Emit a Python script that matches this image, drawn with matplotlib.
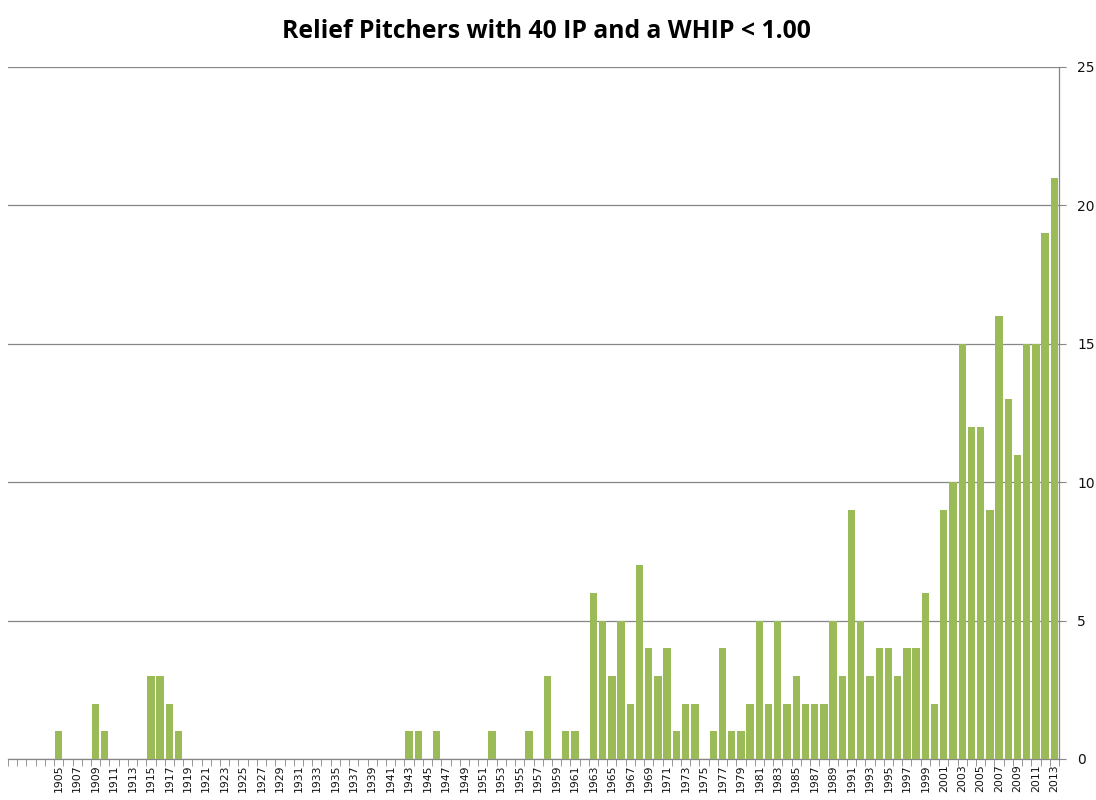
import numpy as np
import matplotlib.pyplot as plt

# five leading categories carry no label in the source sheet
lead_labels = ["", "", "", "", ""]
years = list(range(1905, 2014))

counts_by_year = {
    1905: 1, 1909: 2, 1910: 1, 1915: 3, 1916: 3, 1917: 2, 1918: 1,
    1943: 1, 1944: 1, 1946: 1, 1952: 1, 1956: 1, 1958: 3, 1960: 1, 1961: 1,
    1963: 6, 1964: 5, 1965: 3, 1966: 5, 1967: 2, 1968: 7, 1969: 4, 1970: 3,
    1971: 4, 1972: 1, 1973: 2, 1974: 2, 1975: 0, 1976: 1, 1977: 4, 1978: 1,
    1979: 1, 1980: 2, 1981: 5, 1982: 2, 1983: 5, 1984: 2, 1985: 3, 1986: 2,
    1987: 2, 1988: 2, 1989: 5, 1990: 3, 1991: 9, 1992: 5, 1993: 3, 1994: 4,
    1995: 4, 1996: 3, 1997: 4, 1998: 4, 1999: 6, 2000: 2, 2001: 9, 2002: 10,
    2003: 15, 2004: 12, 2005: 12, 2006: 9, 2007: 16, 2008: 13, 2009: 11,
    2010: 15, 2011: 15, 2012: 19, 2013: 21,
}

labels = lead_labels + [str(y) for y in years]
values = [0] * len(lead_labels) + [counts_by_year.get(y, 0) for y in years]

grid_col = "#868686"
bar_col = "#9BBB59"

fig = plt.figure(figsize=(10.96, 8), dpi=100)
ax = fig.add_axes([8 / 1096, 41 / 800, (1059 - 8) / 1096, (759 - 67) / 800])

x = np.arange(len(values))
ax.bar(x, values, width=0.8, color=bar_col, zorder=3)

ax.set_xlim(-0.5, len(values) - 0.5)
ax.set_ylim(0, 25)

# y axis on the right
ax.yaxis.tick_right()
ax.set_yticks([0, 5, 10, 15, 20, 25])
ax.tick_params(axis="y", direction="out", length=5, color=grid_col,
               labelsize=10, pad=8, labelcolor="#111111")
ax.grid(axis="y", color=grid_col, linewidth=0.9, zorder=0)

# category labels: every other one shown, ticks at boundaries
shown = [i for i, l in enumerate(labels) if l and (int(l) % 2 == 1)]
ax.set_xticks(shown)
ax.set_xticklabels([labels[i] for i in shown], rotation=90, fontsize=7.8,
                   color="#111111")
ax.tick_params(axis="x", which="major", length=0, pad=4)
ax.set_xticks(np.arange(-0.5, len(values), 1.0), minor=True)
ax.tick_params(axis="x", which="minor", direction="out", length=5, color=grid_col)

for side in ["left", "top"]:
    ax.spines[side].set_visible(False)
for side in ["right", "bottom"]:
    ax.spines[side].set_color(grid_col)
    ax.spines[side].set_linewidth(0.9)

fig.text(546 / 1096, 1 - 31 / 800, "Relief Pitchers with 40 IP and a WHIP < 1.00",
         ha="center", va="center", fontsize=17.8, fontweight="bold",
         family=["Open Sans", "DejaVu Sans"])

fig.savefig("out.png", dpi=100)
